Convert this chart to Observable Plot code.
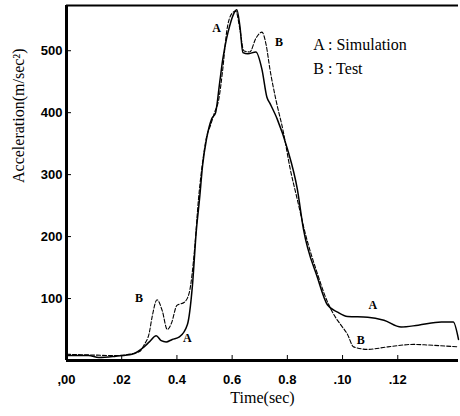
<!DOCTYPE html>
<html><head><meta charset="utf-8">
<script src="https://cdn.jsdelivr.net/npm/d3@7"></script>
<script src="https://cdn.jsdelivr.net/npm/@observablehq/plot@0.6"></script>
<style>body{margin:0;background:#fff}</style>
</head><body><div id="chart"></div>
<script>
const timeA = [0,0.008,0.0117,0.0179,0.0237,0.0281,0.030,0.0325,0.0343,0.0361,0.0383,0.0409,0.0438,0.0456,0.047,0.0482,0.0493,0.0507,0.0526,0.054,0.0555,0.0566,0.058,0.0591,0.0606,0.0617,0.0628,0.0639,0.0657,0.0686,0.0708,0.0726,0.0737,0.0763,0.080,0.0836,0.0858,0.0909,0.0945,0.0982,0.1018,0.1091,0.115,0.1212,0.1274,0.1358,0.1401,0.142];
const simulation = [8,8,5,7,10,22,30,40,32,30,34,38,58,120,208,261,315,357,390,400,449,486,520,540,560,566,540,497,495,498,470,425,415,390,342,277,213,134,90,78,71,70,65,54,57,62,62,34];
const timeB = [0,0.008,0.0179,0.0263,0.0281,0.030,0.031,0.0328,0.0347,0.0365,0.038,0.040,0.0427,0.0445,0.0464,0.0478,0.0493,0.0507,0.0522,0.0536,0.0551,0.0566,0.058,0.0599,0.0613,0.0628,0.0642,0.0664,0.0686,0.0708,0.0723,0.0737,0.0759,0.0785,0.081,0.0836,0.0865,0.0909,0.0945,0.0974,0.0993,0.1018,0.104,0.1091,0.1164,0.1259,0.131,0.142];
const test = [10,9,8,14,25,45,70,98,80,50,60,89,94,110,180,260,320,360,380,400,420,470,530,560,564,535,500,498,520,530,510,470,420,370,310,260,205,140,95,70,58,42,22,18,22,26,25,22];
const xTicks = [0,0.02,0.04,0.06,0.08,0.10,0.12];
const xTickLabels = [",00",".02","0.4","0.6","0.8",".10",".12"];
const yTicks = [100,200,300,400,500];
const curveLabels = ["A","B","B","A","A","B"];
const curveLabelT = [0.0544,0.077,0.0263,0.0438,0.111,0.1066];
const curveLabelV = [537,514,100,36,89,33];
const legendLines = ["A : Simulation","B : Test"];
const legendV = [510,470];

const dataA = timeA.map((t,i)=>({t, v: simulation[i]}));
const dataB = timeB.map((t,i)=>({t, v: test[i]}));
const labels = curveLabels.map((s,i)=>({s, t: curveLabelT[i], v: curveLabelV[i]}));
const legend = legendLines.map((s,i)=>({s, t: 0.0894, v: legendV[i]}));

const chart = Plot.plot({
  width: 460, height: 416,
  marginLeft: 66, marginRight: 2, marginTop: 5, marginBottom: 56,
  style: {fontFamily: "Liberation Serif", background: "#fff", color: "#000"},
  x: {domain: [0, 0.142]},
  y: {domain: [0, 573]},
  marks: [
    Plot.axisX({ticks: xTicks, tickFormat: (d,i)=>xTickLabels[i], tickSize: -5, tickPadding: 19, label: null, fontSize: 13, fontWeight: "bold", fontFamily: "Liberation Sans"}),
    Plot.axisY({ticks: yTicks, tickSize: -5, tickPadding: 9, label: null, fontSize: 13, fontWeight: "bold", fontFamily: "Liberation Sans"}),
    Plot.ruleY([0], {strokeWidth: 3}),
    Plot.ruleX([0], {strokeWidth: 3}),
    Plot.ruleY([573], {strokeWidth: 2}),
    Plot.line(dataA, {x: "t", y: "v", stroke: "#000", strokeWidth: 1.5, curve: "monotone-x"}),
    Plot.line(dataB, {x: "t", y: "v", stroke: "#000", strokeWidth: 1.1, strokeDasharray: "4,2", curve: "monotone-x"}),
    Plot.text(labels, {x: "t", y: "v", text: "s", fontSize: 12, fontWeight: "bold", fill: "#000"}),
    Plot.text(legend, {x: "t", y: "v", text: "s", fontSize: 16, textAnchor: "start", fill: "#000"}),
    Plot.text(["Acceleration(m/sec²)"], {frameAnchor: "left", dx: -48, rotate: -90, fontSize: 16, fill: "#000"}),
    Plot.text(["Time(sec)"], {frameAnchor: "bottom", dy: 42, fontSize: 16, fill: "#000"})
  ]
});
document.getElementById("chart").append(chart);
</script></body></html>
